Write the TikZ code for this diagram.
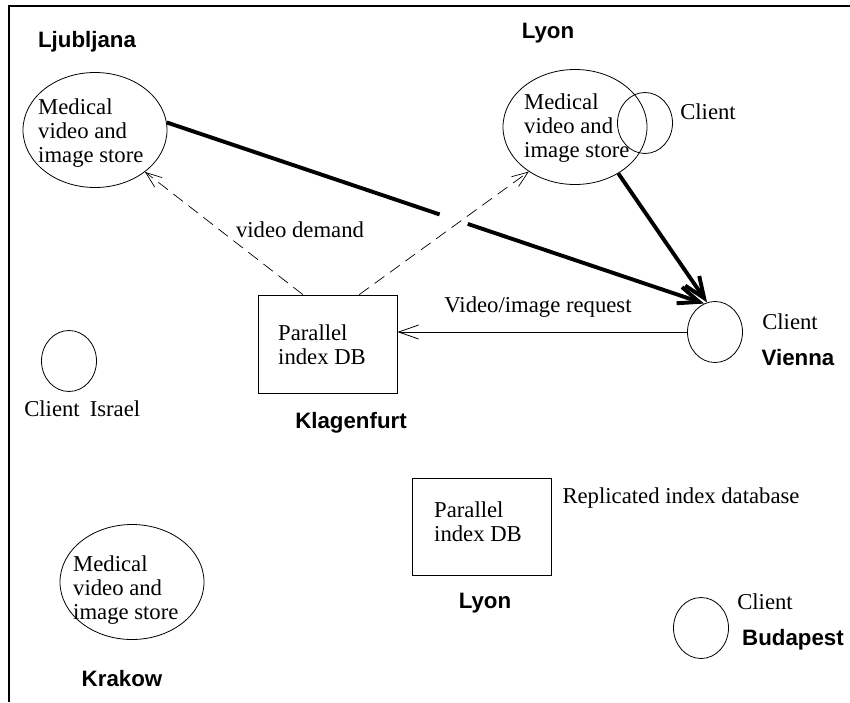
\documentclass[tikz,border=0pt]{standalone}
\usepackage{fontspec}
\setmainfont{Liberation Serif}
\newfontfamily\lsans{Liberation Sans}
\usetikzlibrary{shapes.geometric,arrows.meta,calc}
\begin{document}
\begin{tikzpicture}[x=1pt,y=-1pt,
 city/.style={font=\lsans\bfseries\fontsize{22.3}{24}\selectfont, inner sep=0pt},
 txt/.style={font=\fontsize{22.7}{24}\selectfont, inner sep=0pt, align=left},
 store/.style={ellipse, draw, line width=0.8pt, minimum width=144pt, minimum height=115pt, inner sep=0pt},
 client/.style={ellipse, draw, line width=0.8pt, minimum width=55pt, minimum height=61pt, inner sep=0pt},
 db/.style={rectangle, draw, line width=0.8pt, inner sep=0pt},
 heavy/.style={line width=3.9pt, -{Straight Barb[length=21pt,width=17pt]}},
 demand/.style={line width=0.7pt, dash pattern=on 12pt off 7pt, -{Straight Barb[length=16pt,width=12pt]}},
 request/.style={line width=0.8pt, -{Straight Barb[length=20pt,width=14pt]}},
 frameline/.style={line width=2.3pt}]
\useasboundingbox (0,0) rectangle (850,702);
\coordinate (fa) at (850,6);
\coordinate (fb) at (9,6);
\coordinate (fc) at (9,702);
\draw[frameline] (fa) -- (fb) -- (fc);

\node[store] (lj) at (95,130) {};
\node[store] (ly) at (575,127) {};
\node[store] (kr) at (132,582) {};
\node[client] (lc) at (645,123) {};
\node[client] (vc) at (715,332) {};
\node[client] (ic) at (69,361) {};
\node[client] (bc) at (701,628) {};
\node[db, minimum width=139pt, minimum height=98pt] (kb) at (327.5,344) {};
\node[db, minimum width=139pt, minimum height=97pt] (lb) at (481.5,526.5) {};

\node[txt, anchor=west] (ljt) at (38,133) {Medical\\video and\\image store};
\node[txt, anchor=west] (lyt) at (524,128) {Medical\\video and\\image store};
\node[txt, anchor=west] (krt) at (73,590) {Medical\\video and\\image store};
\node[txt, anchor=west] (kbt) at (278,345) {Parallel\\index DB};
\node[txt, anchor=west] (lbt) at (434,522) {Parallel\\index DB};

\node[city] (ljl) at (87,42) {Ljubljana};
\node[city] (lyl) at (548,33) {Lyon};
\node[city] (kll) at (351,423) {Klagenfurt};
\node[city] (vil) at (798,358) {Vienna};
\node[city] (krl) at (122,679) {Krakow};
\node[city] (lyl2) at (485,603) {Lyon};
\node[city] (bul) at (793,640) {Budapest};

\node[txt] (lct) at (708,112) {Client};
\node[txt] (vct) at (790,322) {Client};
\node[txt] (ict) at (52,409) {Client};
\node[txt] (isl) at (115,409) {Israel};
\node[txt] (bct) at (765,602) {Client};
\node[txt] (rep) at (681,498) {Replicated index database};
\node[txt] (vreq) at (538,307) {Video/image request};
\node[txt] (vdem) at (300,230) {video demand};

\draw[heavy] (lj.6) -- (vc.111);
\draw[white, line width=6.5pt] ($(lj.6)!0.508!(vc.111)$) -- ($(lj.6)!0.56!(vc.111)$);
\draw[heavy] (ly.-47) -- (vc.105);
\draw[demand] ($(kb.north west)!0.324!(kb.north east)$) -- (lj.-40);
\draw[demand] ($(kb.north west)!0.727!(kb.north east)$) -- (ly.-136);
\draw[request] (vc.west) -- (vc.west -| kb.east);
\end{tikzpicture}
\end{document}
